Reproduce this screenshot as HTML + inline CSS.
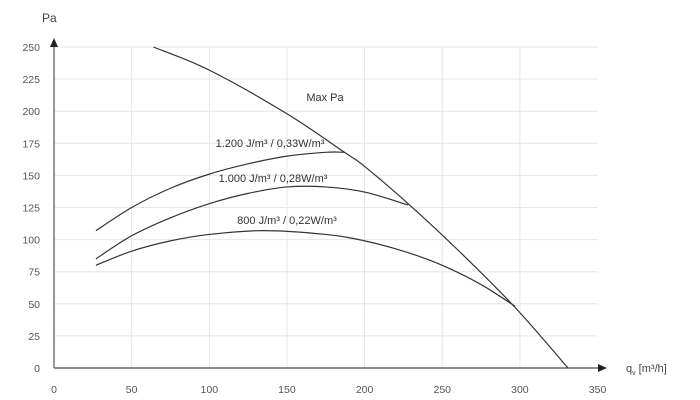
<!DOCTYPE html>
<html><head><meta charset="utf-8"><style>
html,body{margin:0;padding:0;background:#fff;}
svg{display:block;font-family:"Liberation Sans",sans-serif;}
</style></head><body>
<svg id="chart" width="700" height="400"></svg>
<script>
const xTicks=[0,50,100,150,200,250,300,350];
const yTicks=[0,25,50,75,100,125,150,175,200,225,250];
const maxPaX=[64,100,150,187,200,228,260,297,331];
const maxPaY=[250,232,198,168,157,128,92,47,0];
const s1200X=[27,50,75,100,125,150,175,187];
const s1200Y=[107,125,140,151,159,165,168,168];
const s1000X=[27,50,75,100,125,150,175,200,228];
const s1000Y=[85,103,117,128,136,141,141,137,127];
const s800X=[27,50,75,100,135,175,200,225,250,275,297];
const s800Y=[80,91,99,104,107,104,99,91,80,65,48];
const NS="http://www.w3.org/2000/svg";
const svg=document.getElementById('chart');
const X=v=>54+v*1.553, Y=v=>368-v*1.284;
function mk(t,a,p){const e=document.createElementNS(NS,t);for(const k in a)e.setAttribute(k,a[k]);(p||svg).appendChild(e);return e;}
const grid=mk('g',{});


xTicks.forEach(v=>{if(v>0&&v<350)mk('line',{x1:X(v),x2:X(v),y1:Y(250),y2:Y(0),stroke:'#e6e6e6','stroke-width':1},grid);});
yTicks.forEach(v=>{if(v>0)mk('line',{x1:X(0),x2:X(350),y1:Y(v),y2:Y(v),stroke:'#e6e6e6','stroke-width':1},grid);});
xTicks.forEach(v=>{const t=mk('text',{x:X(v),y:393,'text-anchor':'middle','font-size':10.5,fill:'#555'});t.textContent=v;

});
yTicks.forEach(v=>{const t=mk('text',{x:40,y:Y(v)+4,'text-anchor':'end','font-size':10.5,fill:'#555'});t.textContent=v;

});
const ax=mk('g',{});


mk('line',{x1:X(0),x2:600,y1:Y(0),y2:Y(0),stroke:'#666','stroke-width':1.5},ax);
mk('path',{d:'M607 368 L598 364 L598 372 Z',fill:'#222'},ax);
mk('line',{x1:X(0),x2:X(0),y1:Y(0),y2:44,stroke:'#777','stroke-width':1.5},ax);
mk('path',{d:'M54 38 L50 47 L58 47 Z',fill:'#222'},ax);
const yl=mk('text',{x:42,y:22,'font-size':12,fill:'#444'});yl.textContent='Pa';


const xl=mk('text',{x:626,y:372,'font-size':11,fill:'#444'});xl.innerHTML='q<tspan font-size="7" dy="3">v</tspan><tspan dy="-3"> [m³/h]</tspan>';


function curve(xs,ys,name){
 const p=xs.map((x,i)=>[X(x),Y(ys[i])]);
 let d='M'+p[0][0]+' '+p[0][1];
 for(let i=0;i<p.length-1;i++){const p0=p[i-1]||p[i],p1=p[i],p2=p[i+1],p3=p[i+2]||p2;
  d+=` C${p1[0]+(p2[0]-p0[0])/6} ${p1[1]+(p2[1]-p0[1])/6} ${p2[0]-(p3[0]-p1[0])/6} ${p2[1]-(p3[1]-p1[1])/6} ${p2[0]} ${p2[1]}`;}
 const e=mk('path',{d:d,fill:'none',stroke:'#333','stroke-width':1.2});
 
 
}
curve(maxPaX,maxPaY,'max-pa-curve');
curve(s1200X,s1200Y,'curve-1200');
curve(s1000X,s1000Y,'curve-1000');
curve(s800X,s800Y,'curve-800');
function lab(x,y,t,n){const e=mk('text',{x:x,y:y,'text-anchor':'middle','font-size':11,fill:'#333'});e.textContent=t;

}
lab(325,101,'Max Pa','label-max-pa');
lab(270,147,'1.200 J/m³ / 0,33W/m³','label-1200');
lab(273,182,'1.000 J/m³ / 0,28W/m³','label-1000');
lab(287,224,'800 J/m³ / 0,22W/m³','label-800');
</script>
</body></html>
